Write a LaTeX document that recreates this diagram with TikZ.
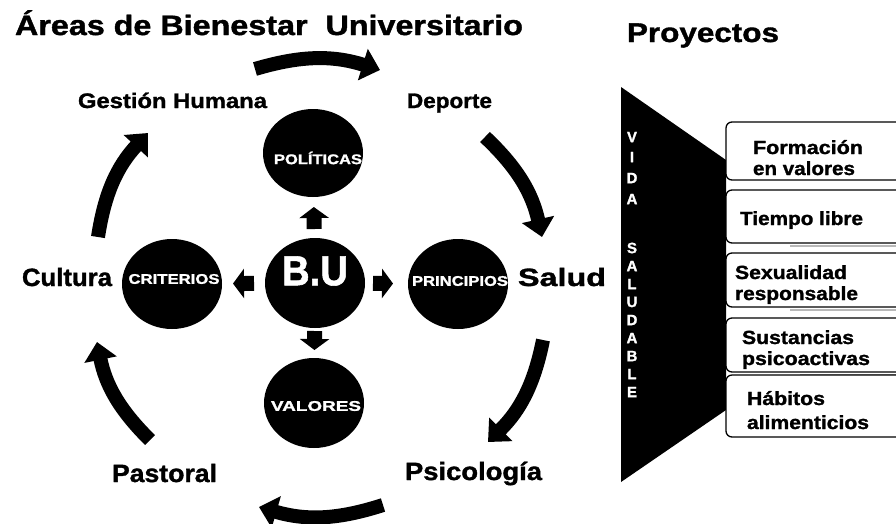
\documentclass[tikz,border=0pt]{standalone}
\usepackage{fontspec}
\setmainfont{Liberation Sans}[BoldFeatures={FakeBold=1.3}]
\usetikzlibrary{arrows.meta,shapes.geometric}
\newcommand\wtxt[2]{\resizebox{#1}{\height}{#2}}
\newcommand\fsz[1]{\bfseries\fontsize{#1}{#1}\selectfont}
\begin{document}
\begin{tikzpicture}[x=1pt,y=-1pt,
  every node/.style={inner sep=0pt, outer sep=0pt},
  lbl/.style={anchor=base west},
  blob/.style={ellipse, fill=black, minimum width=100pt, minimum height=90pt},
  ctext/.style={text=white},
  bigarr/.style={line width=14pt, -{Triangle[width=32pt,length=18pt]}},
  smallarr/.style={line width=15pt, -{Triangle[width=29pt,length=11pt]}},
  pbox/.style={draw=black, line width=1.3pt, fill=white, rounded corners=6pt, anchor=north west, minimum width=200pt},
  ptext/.style={anchor=base west, font=\fsz{19}},
  vl/.style={text=white, font=\fsz{15}}
]
\useasboundingbox (0,0) rectangle (896,523);
\fill[white] (0,0) rectangle (896,523);
\clip (0,0) rectangle (896,523);

% titles
\node[lbl, font=\fsz{28}] (title) at (15,35) {\wtxt{508pt}{Áreas de Bienestar\ \ Universitario}};
\node[lbl, font=\fsz{27}] (proy) at (627,42) {\wtxt{152pt}{Proyectos}};

% area labels
\node[lbl, font=\fsz{21}] (gh) at (78,108) {\wtxt{189pt}{Gestión Humana}};
\node[lbl, font=\fsz{21}] (dep) at (407,108) {\wtxt{85pt}{Deporte}};
\node[lbl, font=\fsz{25}] (cul) at (22,286) {\wtxt{90pt}{Cultura}};
\node[lbl, font=\fsz{25}] (sal) at (518,286) {\wtxt{88pt}{Salud}};
\node[lbl, font=\fsz{25}] (pas) at (112,482) {\wtxt{105pt}{Pastoral}};
\node[lbl, font=\fsz{25}] (psi) at (405,480) {\wtxt{137pt}{Psicología}};

% circles
\node[blob, minimum height=88pt] (pol) at (313,153) {};
\node[blob] (bu) at (315,283) {};
\node[blob] (cri) at (172,284) {};
\node[blob] (pri) at (458,284) {};
\node[blob] (val) at (314,403) {};

\node[ctext, font=\fsz{14}] (polt) at (318,158) {\wtxt{88pt}{POLÍTICAS}};
\node[ctext, font=\fsz{42}] (but) at (315,271) {\wtxt{66pt}{B.U}};
\node[ctext, font=\fsz{14}] (crit) at (174,279) {\wtxt{91pt}{CRITERIOS}};
\node[ctext, font=\fsz{14}] (prit) at (460,281) {\wtxt{96pt}{PRINCIPIOS}};
\node[ctext, font=\fsz{14}] (valt) at (316,406) {\wtxt{90pt}{VALORES}};

% small block arrows
\draw[smallarr, shorten <=9pt, shorten >=10pt] (bu) -- (pol);
\draw[smallarr, shorten <=11pt, shorten >=11pt] (bu) -- (cri);
\draw[smallarr, shorten <=8pt, shorten >=15pt] (bu) -- (pri);
\draw[smallarr, shorten <=3pt, shorten >=8pt] (bu) -- (val);

% big cycle arrows
\coordinate (a1s) at (255,69);  \coordinate (a1e) at (380,70);
\coordinate (a2s) at (485,137); \coordinate (a2e) at (542,237);
\coordinate (a3s) at (543,340); \coordinate (a3e) at (488,442);
\coordinate (a4s) at (383,505); \coordinate (a4e) at (259,507);
\coordinate (a5s) at (150,440); \coordinate (a5e) at (97,342);
\coordinate (a6s) at (98,237);  \coordinate (a6e) at (148,133);
\draw[bigarr] (a1s) to[bend left=17] (a1e);
\draw[bigarr] (a2s) to[bend left=17] (a2e);
\draw[bigarr] (a3s) to[bend left=17] (a3e);
\draw[bigarr] (a4s) to[bend left=17] (a4e);
\draw[bigarr] (a5s) to[bend left=17] (a5e);
\draw[bigarr] (a6s) to[bend left=17] (a6e);

% funnel
\fill[black] (621,87) -- (726,160) -- (726,410) -- (621,482) -- cycle;
\foreach \ch/\yy [count=\i] in {V/137,I/157,D/178,A/199,S/248,A/266,L/284,U/302,D/320,A/338,B/356,L/374,E/392}
  \node[vl] (vs\i) at (632,\yy) {\ch};

% shadows
\draw[gray!55, line width=2pt] (790,246) -- (896,246);
\draw[gray!55, line width=2pt] (790,310) -- (896,310);
\draw[gray!55, line width=2pt] (800,375) -- (896,375);

% project boxes
\node[pbox, minimum height=58pt] (b1) at (726,122) {};
\node[pbox, minimum height=53pt] (b2) at (726,190) {};
\node[pbox, minimum height=54pt] (b3) at (726,253) {};
\node[pbox, minimum height=54pt] (b4) at (726,318) {};
\node[pbox, minimum height=62pt] (b5) at (726,375) {};

\node[ptext] (t1a) at (753,154) {\wtxt{110pt}{Formación}};
\node[ptext] (t1b) at (753,175) {\wtxt{102pt}{en valores}};
\node[ptext] (t2)  at (740,225) {\wtxt{123pt}{Tiempo libre}};
\node[ptext] (t3a) at (735,279) {\wtxt{112pt}{Sexualidad}};
\node[ptext] (t3b) at (735,300) {\wtxt{123pt}{responsable}};
\node[ptext] (t4a) at (742,344) {\wtxt{112pt}{Sustancias}};
\node[ptext] (t4b) at (742,365) {\wtxt{128pt}{psicoactivas}};
\node[ptext] (t5a) at (747,405) {\wtxt{78pt}{Hábitos}};
\node[ptext] (t5b) at (747,429) {\wtxt{122pt}{alimenticios}};
\end{tikzpicture}
\end{document}
